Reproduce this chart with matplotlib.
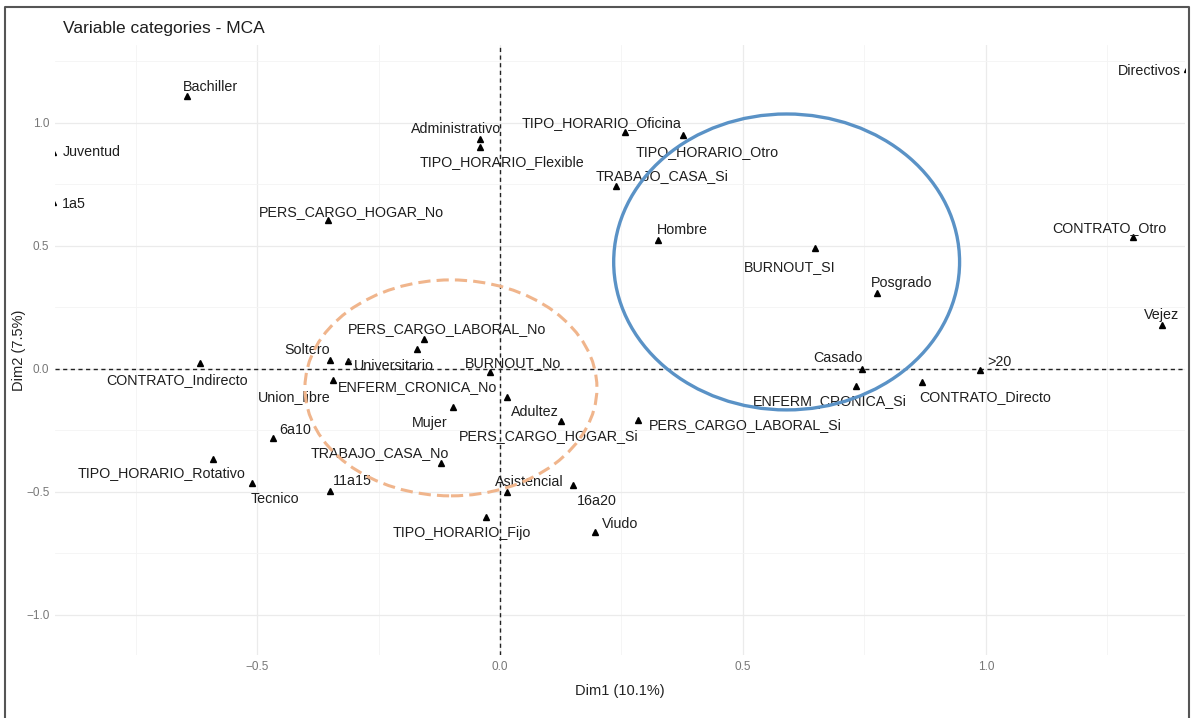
import matplotlib
matplotlib.use('Agg')
import matplotlib.pyplot as plt
from matplotlib.patches import Ellipse
from matplotlib.lines import Line2D
import numpy as np

# MCA variable categories (Dim1, Dim2)
categories = [
    "Bachiller", "Juventud", "1a5", "PERS_CARGO_HOGAR_No", "Administrativo",
    "TIPO_HORARIO_Flexible", "TIPO_HORARIO_Oficina", "TIPO_HORARIO_Otro",
    "TRABAJO_CASA_Si", "Hombre", "BURNOUT_SI", "Posgrado", "Directivos",
    "CONTRATO_Otro", "Vejez", "PERS_CARGO_LABORAL_No", "Union_libre",
    "Soltero", "Universitario", "BURNOUT_No", "CONTRATO_Indirecto",
    "ENFERM_CRONICA_No", "Adultez", "Mujer", "PERS_CARGO_HOGAR_Si",
    "PERS_CARGO_LABORAL_Si", "TRABAJO_CASA_No", "Asistencial", "16a20",
    "TIPO_HORARIO_Fijo", "Viudo", "6a10", "TIPO_HORARIO_Rotativo", "Tecnico",
    "11a15", "Casado", ">20", "ENFERM_CRONICA_Si", "CONTRATO_Directo",
]
dim1 = [
    -0.644, -0.921, -0.921, -0.354, -0.041,
    -0.041, 0.257, 0.377,
    0.239, 0.325, 0.648, 0.776, 1.414,
    1.302, 1.362, -0.156, -0.171,
    -0.350, -0.313, -0.021, -0.617,
    -0.344, 0.014, -0.097, 0.126,
    0.284, -0.121, 0.014, 0.150,
    -0.029, 0.195, -0.467, -0.591, -0.510,
    -0.350, 0.745, 0.988, 0.733, 0.868,
]
dim2 = [
    1.110, 0.882, 0.679, 0.606, 0.935,
    0.902, 0.963, 0.951,
    0.744, 0.524, 0.492, 0.309, 1.220,
    0.537, 0.179, 0.122, 0.081,
    0.037, 0.033, -0.012, 0.024,
    -0.045, -0.114, -0.154, -0.211,
    -0.207, -0.382, -0.500, -0.472,
    -0.602, -0.663, -0.280, -0.366, -0.463,
    -0.496, 0.000, -0.004, -0.069, -0.053,
]

# repelled label placement, offsets in pixels (right, down)
label_offsets = {
    "Bachiller": (23, -9), "Juventud": (39, 0), "1a5": (21, 2),
    "PERS_CARGO_HOGAR_No": (23, -8), "Administrativo": (-24, -10),
    "TIPO_HORARIO_Flexible": (22, 15), "TIPO_HORARIO_Oficina": (-23, -9),
    "TIPO_HORARIO_Otro": (24, 17), "TRABAJO_CASA_Si": (46, -10),
    "Hombre": (24, -10), "BURNOUT_SI": (-25, 19), "Posgrado": (25, -10),
    "Directivos": (-38, 2), "CONTRATO_Otro": (-23, -9), "Vejez": (0, -10),
    "PERS_CARGO_LABORAL_No": (23, -10), "Union_libre": (-123, 48),
    "Soltero": (-23, -10), "Universitario": (46, 5), "BURNOUT_No": (23, -9),
    "CONTRATO_Indirecto": (-23, 17), "ENFERM_CRONICA_No": (85, 7),
    "Adultez": (28, 15), "Mujer": (-23, 16), "PERS_CARGO_HOGAR_Si": (-13, 15),
    "PERS_CARGO_LABORAL_Si": (107, 5), "TRABAJO_CASA_No": (-61, -10),
    "Asistencial": (22, -10), "16a20": (24, 16), "TIPO_HORARIO_Fijo": (-24, 16),
    "Viudo": (25, -8), "6a10": (22, -8), "TIPO_HORARIO_Rotativo": (-51, 14),
    "Tecnico": (23, 16), "11a15": (22, -10), "Casado": (-24, -11),
    ">20": (19, -8), "ENFERM_CRONICA_Si": (-26, 15), "CONTRATO_Directo": (63, 15),
}
with_segment = {"Universitario"}

plt.rcParams['font.family'] = ['Liberation Sans', 'DejaVu Sans']

W, H = 1193, 718
fig = plt.figure(figsize=(W / 100, H / 100), dpi=100)
ax = fig.add_axes([55 / W, (H - 655) / H, 1130 / W, 610 / H])
ax.set_xlim(-0.916, 1.41)
ax.set_ylim(-1.163, 1.317)

# theme_minimal-like grid
ax.set_xticks([-0.5, 0.0, 0.5, 1.0])
ax.set_yticks([-1.0, -0.5, 0.0, 0.5, 1.0])
ax.set_xticks([-0.75, -0.25, 0.25, 0.75, 1.25], minor=True)
ax.set_yticks([-0.75, -0.25, 0.25, 0.75, 1.25], minor=True)
ax.grid(True, which='major', color='#EBEBEB', lw=0.9)
ax.grid(True, which='minor', color='#F4F4F4', lw=0.6)
ax.set_axisbelow(True)
for s in ax.spines.values():
    s.set_visible(False)
ax.tick_params(which='both', length=0)
ax.tick_params(axis='both', labelsize=8.5, labelcolor='#777777', pad=4)

ax.axhline(0, color='#222222', ls=(0, (3, 2.5)), lw=1.0, zorder=1)
ax.axvline(0, color='#222222', ls=(0, (3, 2.5)), lw=1.0, zorder=1)

ax.plot(dim1, dim2, ls='none', marker='^', ms=4, color='black', zorder=3)

for name, x, y in zip(categories, dim1, dim2):
    dx, dy = label_offsets[name]
    arrow = dict(arrowstyle='-', color='#333333', lw=0.8, shrinkA=0, shrinkB=3) \
        if name in with_segment else None
    ax.annotate(name, (x, y), xytext=(dx, -dy), textcoords='offset pixels',
                ha='center', va='center', fontsize=10.3, color='#1E1E1E',
                arrowprops=arrow, zorder=4, annotation_clip=False)

# highlighted groups
ax.add_patch(Ellipse((0.59, 0.435), 0.712, 1.203, fill=False,
                     ec='#5A92C6', lw=2.4, zorder=5))
ax.add_patch(Ellipse((-0.101, -0.077), 0.601, 0.878, fill=False,
                     ec='#F0B58C', lw=2.2, ls=(0, (4, 2)), zorder=5))

ax.set_xlabel("Dim1 (10.1%)", fontsize=10.5, color='#222222', labelpad=8)
ax.set_ylabel("Dim2 (7.5%)", fontsize=10.5, color='#222222', labelpad=0)
fig.text(63 / W, 1 - 28 / H, "Variable categories - MCA", fontsize=12.5,
         color='#1E1E1E', va='center', ha='left')

# outer frame of the screenshot
fx = [5 / W, 5 / W, 1189 / W, 1189 / W]
fy = [0, 1 - 7 / H, 1 - 7 / H, 0]
fig.add_artist(Line2D(fx, fy, color='#555555', lw=1.5, transform=fig.transFigure))

fig.savefig('out.png', dpi=100, facecolor='white')
